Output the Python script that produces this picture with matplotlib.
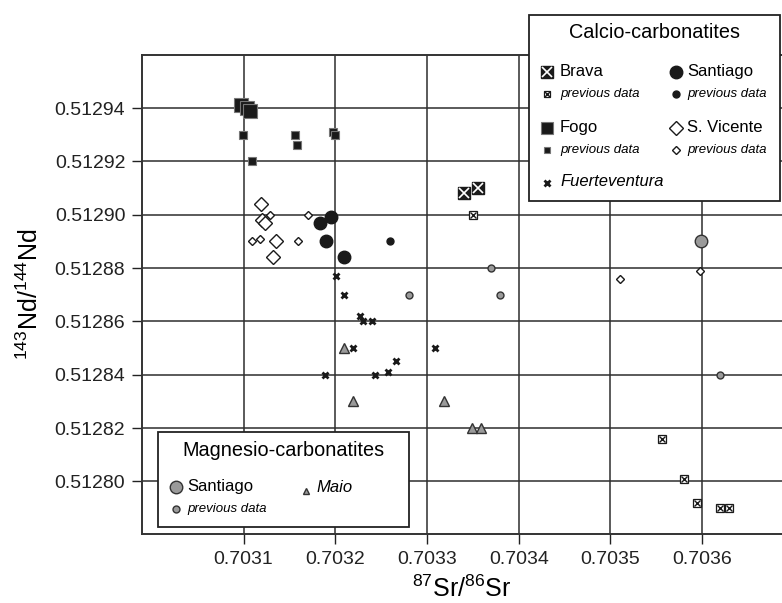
import matplotlib
matplotlib.use("Agg")
import matplotlib.pyplot as plt
from matplotlib.patches import Rectangle

plt.rcParams['font.family'] = ['Liberation Sans', 'DejaVu Sans']
plt.rcParams['mathtext.fontset'] = 'custom'
plt.rcParams['mathtext.rm'] = 'Liberation Sans'

# Calcio-carbonatites
brava_x = [0.703340, 0.703356]
brava_y = [0.512908, 0.512910]
brava_prev_x = [0.703350, 0.703556, 0.703580, 0.703594, 0.703619, 0.703629]
brava_prev_y = [0.512900, 0.512816, 0.512801, 0.512792, 0.512790, 0.512790]

fogo_x = [0.703097, 0.703104, 0.703107]
fogo_y = [0.512941, 0.512940, 0.512939]
fogo_prev_x = [0.703099, 0.703156, 0.703158, 0.703109, 0.703198, 0.703200]
fogo_prev_y = [0.512930, 0.512930, 0.512926, 0.512920, 0.512931, 0.512930]

santiago_x = [0.703195, 0.703183, 0.703190, 0.703209]
santiago_y = [0.512899, 0.512897, 0.512890, 0.512884]
santiago_prev_x = [0.703260]
santiago_prev_y = [0.512890]

vicente_x = [0.703119, 0.703120, 0.703123, 0.703135, 0.703132]
vicente_y = [0.512904, 0.512898, 0.512897, 0.512890, 0.512884]
vicente_prev_x = [0.703129, 0.703170, 0.703109, 0.703118, 0.703159, 0.703510, 0.703598]
vicente_prev_y = [0.512900, 0.512900, 0.512890, 0.512891, 0.512890, 0.512876, 0.512879]

fuerte_x = [0.703201, 0.703209, 0.703227, 0.703230, 0.703240, 0.703219,
            0.703309, 0.703266, 0.703257, 0.703243, 0.703189]
fuerte_y = [0.512877, 0.512870, 0.512862, 0.512860, 0.512860, 0.512850,
            0.512850, 0.512845, 0.512841, 0.512840, 0.512840]

# Magnesio-carbonatites
maio_x = [0.703210, 0.703219, 0.703319, 0.703349, 0.703359]
maio_y = [0.512850, 0.512830, 0.512830, 0.512820, 0.512820]
mg_santiago_x = [0.703599]
mg_santiago_y = [0.512890]
mg_prev_x = [0.703370, 0.703380, 0.703620, 0.703280]
mg_prev_y = [0.512880, 0.512870, 0.512840, 0.512870]

x_ticks = [0.7031, 0.7032, 0.7033, 0.7034, 0.7035, 0.7036]
y_ticks = [0.51280, 0.51282, 0.51284, 0.51286, 0.51288, 0.51290, 0.51292, 0.51294]

BLACK = '#1a1a1a'
GRAY = '#9a9a9a'
W, H = 782, 603

fig = plt.figure(figsize=(W / 100, H / 100), dpi=100)
ax = fig.add_axes([142 / W, 1 - 534 / H, 1 - 142 / W, (534 - 55) / H])


def crossed(axis, x, y, size, big):
    # square with an X inside
    if big:
        axis.plot(x, y, 's', ms=size, mfc=BLACK, mec=BLACK, ls='none', zorder=5, clip_on=False)
        axis.plot(x, y, 'x', ms=size * 0.8, mec='white', mew=1.2, ls='none', zorder=6, clip_on=False)
    else:
        axis.plot(x, y, 's', ms=size, mfc='white', mec=BLACK, mew=0.9, ls='none', zorder=5, clip_on=False)
        axis.plot(x, y, 'x', ms=size * 0.8, mec=BLACK, mew=1.0, ls='none', zorder=6, clip_on=False)


def draw_markers(axis, pts, kind, size):
    x, y = pts
    if kind == 'brava':
        crossed(axis, x, y, size, True)
    elif kind == 'brava_prev':
        crossed(axis, x, y, size, False)
    elif kind == 'fogo':
        axis.plot(x, y, 's', ms=size, mfc=BLACK, mec='#777777', mew=0.8, ls='none', zorder=5, clip_on=False)
    elif kind == 'santiago':
        axis.plot(x, y, 'o', ms=size, mfc=BLACK, mec=BLACK, ls='none', zorder=5, clip_on=False)
    elif kind == 'vicente':
        axis.plot(x, y, 'D', ms=size, mfc='white', mec=BLACK, mew=1.0, ls='none', zorder=5, clip_on=False)
    elif kind == 'fuerte':
        axis.plot(x, y, 'x', ms=size, mec=BLACK, mew=2.0, ls='none', zorder=5, clip_on=False)
    elif kind == 'maio':
        axis.plot(x, y, '^', ms=size, mfc=GRAY, mec='#333333', mew=1.0, ls='none', zorder=5, clip_on=False)
    elif kind == 'mg':
        axis.plot(x, y, 'o', ms=size, mfc=GRAY, mec='#333333', mew=1.0, ls='none', zorder=5, clip_on=False)


draw_markers(ax, (fogo_prev_x, fogo_prev_y), 'fogo', 6)
draw_markers(ax, (fogo_x, fogo_y), 'fogo', 10)
draw_markers(ax, (vicente_prev_x, vicente_prev_y), 'vicente', 4)
draw_markers(ax, (vicente_x, vicente_y), 'vicente', 7)
draw_markers(ax, (santiago_x, santiago_y), 'santiago', 9)
draw_markers(ax, (santiago_prev_x, santiago_prev_y), 'santiago', 5)
draw_markers(ax, (fuerte_x, fuerte_y), 'fuerte', 5)
draw_markers(ax, (maio_x, maio_y), 'maio', 7)
draw_markers(ax, (mg_prev_x, mg_prev_y), 'mg', 5)
draw_markers(ax, (mg_santiago_x, mg_santiago_y), 'mg', 9)
draw_markers(ax, (brava_x, brava_y), 'brava', 9)
draw_markers(ax, (brava_prev_x, brava_prev_y), 'brava_prev', 6)

ax.set_xlim(0.70298925, 0.7036871)
ax.set_ylim(0.51278025, 0.51295988)
ax.set_xticks(x_ticks)
ax.set_yticks(y_ticks)
ax.set_xticklabels(['%.4f' % v for v in x_ticks])
ax.set_yticklabels(['%.5f' % v for v in y_ticks])
ax.tick_params(direction='out', length=7, width=1.0, labelsize=14, pad=5, colors='#222222')
ax.grid(True, color='#2e2e2e', lw=1.1)
ax.set_axisbelow(True)
for side in ['left', 'bottom', 'top']:
    ax.spines[side].set_linewidth(1.4)
    ax.spines[side].set_color('#333333')
ax.spines['right'].set_visible(False)

ax.set_xlabel(r'$\mathregular{^{87}Sr/^{86}Sr}$', fontsize=18, labelpad=6)
ax.set_ylabel(r'$\mathregular{^{143}Nd/^{144}Nd}$', fontsize=18, labelpad=8)

# legends drawn in pixel coordinates on an overlay
lg = fig.add_axes([0, 0, 1, 1])
lg.set_xlim(0, W)
lg.set_ylim(H, 0)
lg.axis('off')
lg.patch.set_alpha(0)

lg.add_patch(Rectangle((529, 15), 251, 186, fc='white', ec='#222222', lw=1.3, zorder=3))
lg.text(655, 33, 'Calcio-carbonatites', fontsize=14.3, ha='center', va='center', zorder=7)
draw_markers(lg, ([546.7], [71.7]), 'brava', 9)
draw_markers(lg, ([546.7], [94.3]), 'brava_prev', 5)
draw_markers(lg, ([676], [71.7]), 'santiago', 9)
draw_markers(lg, ([676], [94.3]), 'santiago', 5)
draw_markers(lg, ([546.7], [127.7]), 'fogo', 9)
draw_markers(lg, ([546.7], [150]), 'fogo', 5)
draw_markers(lg, ([676], [127.7]), 'vicente', 7)
draw_markers(lg, ([676], [150]), 'vicente', 4)
draw_markers(lg, ([546.7], [183]), 'fuerte', 5)
for tx, ty, s in [(560, 71.7, 'Brava'), (687, 71.7, 'Santiago'),
                  (560, 127.7, 'Fogo'), (687, 127.7, 'S. Vicente')]:
    lg.text(tx, ty, s, fontsize=12, ha='left', va='center', zorder=7)
for tx, ty in [(560, 94.3), (687, 94.3), (560, 150), (687, 150)]:
    lg.text(tx, ty, 'previous data', fontsize=9.5, style='italic', ha='left', va='center', zorder=7)
lg.text(560, 181, 'Fuerteventura', fontsize=12, style='italic', ha='left', va='center', zorder=7)

lg.add_patch(Rectangle((158, 432), 251, 95, fc='white', ec='#222222', lw=1.3, zorder=3))
lg.text(283, 450, 'Magnesio-carbonatites', fontsize=14.3, ha='center', va='center', zorder=7)
draw_markers(lg, ([176], [486.7]), 'mg', 9)
draw_markers(lg, ([176], [509.3]), 'mg', 5)
draw_markers(lg, ([305.7], [490.7]), 'maio', 5)
lg.text(187.7, 486.7, 'Santiago', fontsize=12, ha='left', va='center', zorder=7)
lg.text(316.7, 488, 'Maio', fontsize=12, style='italic', ha='left', va='center', zorder=7)
lg.text(187.7, 509.3, 'previous data', fontsize=9.5, style='italic', ha='left', va='center', zorder=7)

fig.savefig('out.png', dpi=100)
